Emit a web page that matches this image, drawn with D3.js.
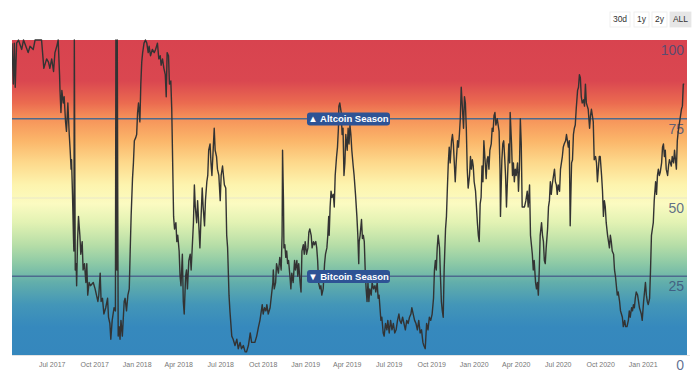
<!DOCTYPE html>
<html><head><meta charset="utf-8">
<script src="https://cdn.jsdelivr.net/npm/d3@7"></script>
<style>html,body{margin:0;padding:0;background:#fff;} svg{display:block;font-family:"Liberation Sans",Arial,Helvetica,sans-serif;}</style>
</head><body><svg id="chart" width="700" height="382"></svg>
<script>
// ---- data ----
const startDate = "2017-04-06";
const endDate = "2021-04-07";
// [days since startDate, altcoin season index]
const seasonIndex = [
[0,99],[3,86],[5,99],[7,85],[10,99],[14,100],[21,97],[25,100],[35,96],[39,98],[46,97],[50,100],[64,100],[69,91],[75,94],[79,93],[82,91],[86,94],[90,90],[93,96],[97,98],[100,100],
[103,89],[104,84],[106,77],[108,84],[111,80],[113,82],[116,74],[118,71],[121,80],[124,70],[126,65],[128,59],[129,62],[131,51],[133,38],[134,33],[135,100],[137,27],[139,29],[140,22],
[142,36],[144,44],[147,38],[149,32],[152,36],[154,27],[157,29],[160,23],[162,29],[164,19],[167,23],[170,22],[176,23],[180,21],[183,19],[186,17],[188,19],[191,26],[193,17],[196,18],
[199,13],[203,15],[207,18],[209,12],[212,10],[214,5],[217,11],[221,15],[224,14],[225,100],[227,27],[228,100],[230,6],[232,9],[234,5],[236,11],[239,6],[243,17],[245,18],[248,14],
[251,19],[254,21],[256,33],[258,44],[261,56],[263,61],[265,68],[268,69],[270,70],[272,77],[274,80],[277,74],[279,86],[281,93],[283,96],[286,99],[289,100],[292,99],[295,96],[297,98],
[300,95],[304,97],[308,96],[311,97],[315,99],[318,94],[321,95],[323,92],[326,94],[329,91],[332,89],[334,82],[336,96],[339,95],[341,86],[344,87],[346,78],[348,61],[350,44],[352,40],
[355,42],[357,36],[359,38],[362,33],[364,25],[366,22],[369,32],[371,17],[373,13],[376,25],[378,27],[380,21],[383,30],[386,32],[388,27],[390,33],[393,42],[395,54],[397,47],[400,42],
[402,49],[405,40],[407,34],[409,42],[412,53],[414,47],[417,41],[419,49],[422,55],[424,57],[426,65],[429,67],[431,61],[433,57],[436,66],[438,72],[440,65],[443,63],[445,59],[448,57],
[451,49],[453,57],[456,60],[458,57],[460,54],[463,53],[465,38],[467,34],[470,19],[472,14],
[476,6],[479,5],[483,3],[487,5],[490,2],[494,4],[497,2],[501,3],[505,1],[508,1],[512,3],[516,7],[519,4],[523,4],[526,4],[530,6],[534,9],[537,11],[539,13],[542,16],[544,13],[547,15],
[550,14],[552,16],[555,13],[559,15],[562,19],[565,23],[566,27],[568,21],[571,23],[573,29],[577,26],[580,31],[583,27],[585,38],[586,65],[588,49],[589,34],[591,35],[593,31],[595,33],
[597,29],[599,30],[602,25],[604,21],[606,26],[609,23],[612,30],[614,27],[617,30],[619,25],[621,29],[624,23],[626,20],[628,33],[631,35],[633,32],[635,36],[638,32],[641,34],[643,39],
[645,40],[648,38],[650,34],[653,36],[655,35],[658,36],[660,34],[662,30],[664,23],[667,21],[669,22],[671,19],[674,21],[677,29],[679,32],[682,34],[684,38],[686,44],[687,38],[689,47],
[691,52],[693,50],[696,51],[698,47],[700,57],[703,63],[705,66],[707,72],[708,79],[710,80],[713,77],[715,70],[717,72],[719,57],[721,61],[723,70],[726,65],[728,72],[730,67],[732,73],
[734,70],[736,65],[739,60],[741,57],[744,51],[747,44],[749,38],[751,29],[752,36],[754,38],[757,43],[759,37],[761,38],[763,36],[765,27],[767,21],[769,17],[771,23],[773,17],[775,21],
[778,19],[780,23],[783,21],[786,22],[788,20],[791,23],[793,18],[795,19],[797,15],[799,11],[801,12],[804,7],[806,6],[809,10],[812,8],[814,11],[817,7],[820,11],[823,8],[826,10],
[829,7],[832,8],[835,11],[838,13],[840,11],[843,10],[846,12],[849,10],[852,8],[855,11],[858,10],[861,12],[864,13],[866,15],[869,13],[872,11],[875,10],[878,8],[881,11],[884,7],
[887,8],[890,4],[892,3],[895,2],[898,10],[901,8],[904,12],[907,11],[910,13],[913,18],[915,27],[917,30],[919,27],[921,34],[923,38],[926,34],[928,25],[930,17],[932,14],[934,12],
[936,27],[939,40],[941,44],[943,53],[945,61],[947,66],[949,61],[952,68],[954,70],[956,67],[958,61],[960,55],[962,61],[965,68],[967,66],[969,70],
[971,75],[973,85],[975,80],[978,72],[980,82],[982,80],[984,72],[986,59],[988,53],[991,57],[993,63],[995,59],[997,62],[999,60],[1001,55],[1004,52],[1006,47],[1008,42],[1010,38],[1012,36],
[1014,48],[1016,50],[1018,60],[1020,55],[1022,68],[1025,61],[1027,56],[1029,62],[1031,63],[1033,59],[1035,65],[1038,67],[1040,72],[1042,71],[1044,76],[1046,77],[1048,73],[1051,75],[1053,73],[1055,71],
[1057,59],[1058,44],[1061,62],[1063,67],[1065,68],[1067,63],[1069,57],[1071,47],[1074,59],[1076,67],[1078,61],[1079,77],[1082,67],[1084,57],[1086,61],[1088,55],[1090,59],[1092,57],[1095,61],[1097,52],
[1099,59],[1101,75],[1103,67],[1105,47],[1108,47],[1110,47],[1113,49],[1116,52],[1118,47],[1121,54],[1123,38],[1125,35],[1127,32],[1129,27],[1131,30],[1134,23],[1136,21],[1138,23],[1140,19],[1142,27],
[1144,38],[1147,42],[1149,38],[1151,36],[1153,30],[1155,29],[1157,34],[1160,40],[1162,47],[1164,49],[1166,55],[1168,51],[1170,54],[1173,57],[1175,59],[1177,55],[1179,54],[1181,51],[1183,54],[1186,52],
[1188,59],[1190,61],[1192,63],[1194,66],[1196,67],[1199,68],[1201,70],[1203,68],[1205,66],[1207,68],[1209,41],[1212,61],[1214,62],[1216,70],[1218,72],[1220,73],[1222,78],[1225,84],[1227,85],[1229,89],
[1231,88],[1233,82],[1235,80],[1238,81],[1240,79],[1242,86],[1244,80],[1246,79],[1248,78],[1251,72],[1253,76],[1255,78],[1257,76],[1259,74],[1261,62],[1264,63],[1266,61],[1268,55],[1270,59],[1272,63],
[1274,63],[1277,57],[1279,52],[1281,44],[1283,49],[1285,47],[1287,42],[1290,38],[1292,36],[1294,34],[1296,38],[1298,36],[1300,33],[1303,32],[1305,27],[1307,25],[1309,22],[1311,19],[1313,20],[1316,17],
[1318,14],[1320,13],[1322,12],[1324,9],[1327,11],[1329,9],[1332,9],[1335,11],[1337,14],[1339,12],[1342,15],[1344,14],[1346,16],[1348,15],[1350,18],[1352,20],[1355,19],[1357,17],[1359,15],[1361,14],
[1363,13],[1365,11],[1368,17],[1370,20],[1372,23],[1374,19],[1376,17],[1378,16],[1381,18],[1383,27],[1385,38],[1387,40],[1389,42],[1391,49],[1394,55],[1396,51],[1398,57],[1400,59],[1402,57],[1404,58],
[1407,61],[1409,66],[1411,67],[1413,63],[1415,65],[1417,59],[1420,57],[1422,60],[1424,62],[1426,61],[1428,60],[1430,63],[1433,61],[1435,65],[1437,62],[1439,59],[1441,68],[1443,71],[1446,74],[1448,76],
[1450,78],[1452,79],[1454,86],[1456,86]
];
const xTickDates = ["2017-07-01","2017-10-01","2018-01-01","2018-04-01","2018-07-01","2018-10-01","2019-01-01","2019-04-01","2019-07-01","2019-10-01","2020-01-01","2020-04-01","2020-07-01","2020-10-01","2021-01-01"];
const yTicks = [0, 25, 50, 75, 100];
const seasonThresholds = [75, 25];
const seasonLabels = ["▲ Altcoin Season", "▼ Bitcoin Season"];
const rangeButtons = ["30d", "1y", "2y", "ALL"];
const activeButton = "ALL";

// ---- layout ----
const W = 700, H = 382;
const plot = {left: 12, right: 687, top: 40, bottom: 355};
const svg = d3.select("#chart");
const parse = d3.utcParse("%Y-%m-%d");
const t0 = parse(startDate);

const x = d3.scaleUtc().domain([t0, parse(endDate)]).range([plot.left, plot.right]);
const y = d3.scaleLinear().domain([0, 100]).range([plot.bottom, plot.top]);

const colorStops = [[100,"#d8434f"],[87,"#da4750"],[80,"#eb6b50"],[75,"#f6935a"],[68,"#fbb66a"],[61,"#fdd98c"],[54,"#fdf4ae"],[48,"#fbfbc1"],[42,"#e2f2b3"],[35,"#b7dea7"],[29,"#8cc9a6"],[23,"#62aeab"],[16,"#4396b8"],[9,"#3689bd"],[0,"#3587bd"]];

const defs = svg.append("defs");
const grad = defs.append("linearGradient").attr("id","bg").attr("gradientUnits","userSpaceOnUse")
  .attr("x1",0).attr("x2",0).attr("y1",y(100)).attr("y2",y(0));
colorStops.forEach(([v,c]) => grad.append("stop").attr("offset", (100 - v) / 100).attr("stop-color", c));
defs.append("clipPath").attr("id","clip").append("rect")
  .attr("x",plot.left).attr("y",plot.top - 1).attr("width",plot.right-plot.left).attr("height",plot.bottom-plot.top + 1);

svg.append("rect").attr("x",plot.left).attr("y",plot.top).attr("width",plot.right-plot.left)
  .attr("height",plot.bottom-plot.top).attr("fill","url(#bg)");

// faint grid lines
svg.append("g").selectAll("line").data([50]).join("line")
  .attr("x1",plot.left).attr("x2",plot.right).attr("y1",d=>y(d)+0.5).attr("y2",d=>y(d)+0.5)
  .attr("stroke","#d8d8d8").attr("stroke-opacity",0.5).attr("stroke-width",1);
svg.append("line").attr("x1",plot.left).attr("x2",690).attr("y1",plot.bottom+0.5).attr("y2",plot.bottom+0.5)
  .attr("stroke","#e4e4e4").attr("stroke-width",1);

// threshold lines
svg.append("g").selectAll("line").data(seasonThresholds).join("line")
  .attr("x1",plot.left).attr("x2",plot.right).attr("y1",d=>y(d)).attr("y2",d=>y(d))
  .attr("stroke","#4d6a8e").attr("stroke-width",1.5);

// y labels
svg.append("g").selectAll("text").data(yTicks).join("text")
  .attr("x",684).attr("y",d=>y(d)+15).attr("text-anchor","end")
  .attr("font-size",14).attr("fill","#3a4d78").attr("fill-opacity",0.8).text(d=>d);

// x axis
const xAxis = d3.axisBottom(x).tickValues(xTickDates.map(parse)).tickFormat(d3.utcFormat("%b %Y")).tickSize(0).tickPadding(7);
const gx = svg.append("g").attr("transform",`translate(0,${plot.bottom})`).call(xAxis);
gx.select(".domain").remove();
gx.selectAll("text").attr("font-size",7).attr("fill","#777").attr("font-family","Liberation Sans, Arial, sans-serif");

// data line
const line = d3.line().x(d => x(d3.utcDay.offset(t0, d[0]))).y(d => y(d[1]));
svg.append("path").datum(seasonIndex).attr("clip-path","url(#clip)")
  .attr("d", line).attr("fill","none").attr("stroke","#333").attr("stroke-width",1.4).attr("stroke-linejoin","round");

// season labels
const lab = svg.append("g").selectAll("g").data(seasonThresholds).join("g")
  .attr("transform", d => `translate(${(plot.left+plot.right)/2 - 1},${y(d) + 0.3})`);
lab.append("rect").attr("x",-41.5).attr("y",-6.5).attr("width",83).attr("height",13).attr("rx",3)
  .attr("fill","#2e5395");
lab.append("text").attr("text-anchor","middle").attr("dy","0.36em").attr("fill","#fff")
  .attr("font-size",9.5).attr("font-weight","bold").text((d,i) => seasonLabels[i]);

// range buttons
const btnX = [610, 634, 652, 670], btnW = [20, 15, 15, 21];
const btn = svg.append("g").selectAll("g").data(rangeButtons).join("g")
  .attr("transform", (d,i) => `translate(${btnX[i]},12)`);
btn.append("rect").attr("width",(d,i)=>btnW[i]).attr("height",15)
  .attr("fill", d => d === activeButton ? "#e6e6e6" : "#fff")
  .attr("stroke", d => d === activeButton ? "#e6e6e6" : "#ececec").attr("stroke-width",0.8);
btn.append("text").attr("x",(d,i)=>btnW[i]/2).attr("y",7.5).attr("dy","0.35em").attr("text-anchor","middle")
  .attr("font-size",8.5).attr("fill","#333").text(d=>d);
</script></body></html>
